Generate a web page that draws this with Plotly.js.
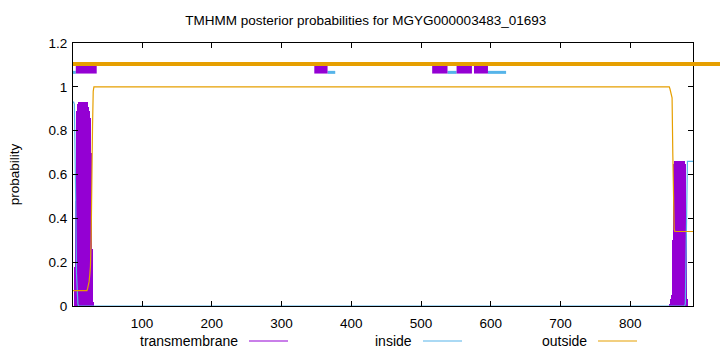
<!DOCTYPE html>
<html>
<head>
<meta charset="utf-8">
<script src="https://cdn.plot.ly/plotly-3.0.1.min.js"></script>
<style>html,body{margin:0;padding:0;background:#fff;}#chart{width:720px;height:352px;}</style>
</head>
<body>
<div id="chart"></div>
<script>
// ---- data ----
const seqLength = 890;
const xTicks = [100, 200, 300, 400, 500, 600, 700, 800];
const yTicks = [0, 0.2, 0.4, 0.6, 0.8, 1, 1.2];

// transmembrane posterior (impulses), only non-zero residues
const tmX = [3,4,5,6,7,8,9,10,11,12,13,14,15,16,17,18,19,20,21,22,23,24,25,26,27,28,29,30,
             857,858,859,860,861,862,863,864,865,866,867,868,869,870,871,872,873,874,875,876,877,878,879,880,881];
const tmY = [0.01,0.18,0.48,0.78,0.89,0.92,0.93,0.93,0.93,0.93,0.93,0.93,0.93,0.93,0.93,0.93,0.93,0.93,0.93,0.92,0.91,0.89,0.86,0.82,0.70,0.26,0.18,0.02,
             0.01,0.03,0.04,0.05,0.30,0.60,0.65,0.66,0.66,0.66,0.66,0.66,0.66,0.66,0.66,0.66,0.66,0.66,0.66,0.66,0.66,0.66,0.65,0.33,0.03];

// inside posterior
const insideX = [1,2,3,4,5,6,7,8,9,878,879,880,881,882,890];
const insideY = [0.93,0.93,0.92,0.75,0.45,0.15,0.04,0.01,0,0,0.01,0.34,0.63,0.66,0.66];

// outside posterior
const outsideX = [1,21,22,23,24,25,26,27,28,29,30,31,855,856,857,858,859,860,861,862,863,864,890];
const outsideY = [0.07,0.07,0.08,0.09,0.11,0.14,0.18,0.30,0.74,0.82,0.98,1.0,1.0,1.0,0.99,0.97,0.96,0.95,0.70,0.40,0.35,0.34,0.34];

// predicted topology bars at the top
const tmSegments = [[5,35],[347,366],[516,538],[551,573],[576,596]];
const insideSegments = [[1,5],[366,377],[538,551],[596,622]];
const outsideSegments = [[1,930]];
const tmBarLevel = 1.08, insideBarLevel = 1.066, outsideBarLevel = 1.104;

const legendLabels = ["transmembrane", "inside", "outside"];

// ---- styles ----
const cTM = "#9400d3", cIn = "#56b4e9", cOut = "#e69f00";
const FONT = "Liberation Sans";
const FS = 13.5;
const L = 73, R = 27, T = 43, B = 46, W = 720, H = 352;
const pw = W - L - R, ph = H - T - B;
const px2x = p => (p - L) / pw;
const py2y = p => (H - B - p) / ph;

function segTrace(segs, level, color, width) {
  const x = [], y = [];
  segs.forEach(s => { x.push(s[0], s[1], null); y.push(level, level, null); });
  return {x, y, type: "scatter", mode: "lines", line: {color, width}, hoverinfo: "skip", showlegend: false};
}

const traces = [
  {x: tmX, y: tmY, type: "bar", width: 2.4, marker: {color: cTM, line: {width: 0}}, showlegend: false},
  {x: insideX, y: insideY, type: "scatter", mode: "lines", line: {color: cIn, width: 1.2}, showlegend: false},
  {x: outsideX, y: outsideY, type: "scatter", mode: "lines", line: {color: cOut, width: 1.2}, showlegend: false},
  segTrace(insideSegments, insideBarLevel, cIn, 3),
  segTrace(tmSegments, tmBarLevel, cTM, 8.5)
];

const xmin = 1, xmax = seqLength;
const shapes = outsideSegments.map(s => ({
  type: "line", xref: "paper", yref: "y",
  x0: (s[0] - xmin) / (xmax - xmin), x1: (s[1] - xmin) / (xmax - xmin),
  y0: outsideBarLevel, y1: outsideBarLevel,
  line: {color: cOut, width: 4}, layer: "above"
}));

// legend drawn gnuplot-style: text then sample line
const legendColors = [cTM, cIn, cOut];
const legendTextRight = [240, 414, 589];
const annotations = [];
legendLabels.forEach((lab, i) => {
  annotations.push({text: lab, xref: "paper", yref: "paper", x: px2x(legendTextRight[i]), y: py2y(341),
    xanchor: "right", yanchor: "middle", showarrow: false, font: {family: FONT, size: 14, color: "#000"}});
  shapes.push({type: "line", xref: "paper", yref: "paper",
    x0: px2x(legendTextRight[i] + 9), x1: px2x(legendTextRight[i] + 48), y0: py2y(341), y1: py2y(341),
    line: {color: legendColors[i], width: 1.2}});
});

const layout = {
  width: W, height: H,
  margin: {l: L, r: R, t: T, b: B},
  paper_bgcolor: "#fff", plot_bgcolor: "#fff",
  font: {family: FONT, size: FS, color: "#000"},
  title: {text: "TMHMM posterior probabilities for MGYG000003483_01693", x: 0.508, xref: "container",
    y: 1 - 20 / H, yref: "container", yanchor: "middle", font: {family: FONT, size: FS, color: "#000"}},
  showlegend: false,
  bargap: 0,
  xaxis: {range: [xmin, xmax], tickvals: xTicks, ticktext: xTicks.map(String), ticks: "inside", ticklen: 5,
    tickcolor: "#000", showline: true, linecolor: "#000", linewidth: 1, mirror: "ticks",
    showgrid: false, zeroline: false, ticklabelstandoff: 5, tickfont: {family: FONT, size: FS}},
  yaxis: {range: [0, 1.2], tickvals: yTicks, ticktext: yTicks.map(String), ticks: "inside", ticklen: 5,
    tickcolor: "#000", showline: true, linecolor: "#000", linewidth: 1, mirror: "ticks",
    showgrid: false, zeroline: false, ticklabelstandoff: 2, tickfont: {family: FONT, size: FS},
    title: {text: "probability", standoff: 25, font: {family: FONT, size: FS}}},
  shapes, annotations
};

Plotly.newPlot("chart", traces, layout, {staticPlot: true, displayModeBar: false});
</script>
</body>
</html>
